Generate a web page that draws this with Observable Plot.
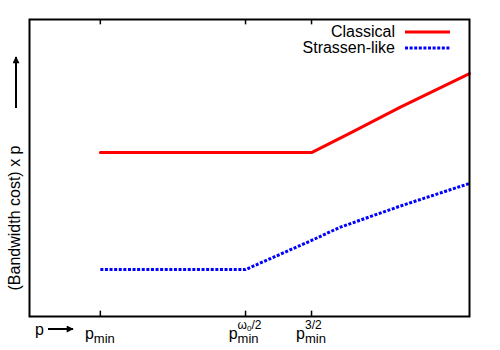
<!DOCTYPE html>
<html>
<head>
<meta charset="utf-8">
<script src="https://cdn.jsdelivr.net/npm/d3@7"></script>
<script src="https://cdn.jsdelivr.net/npm/@observablehq/plot@0.6"></script>
<style>
  body { margin: 0; background: #fff; }
</style>
</head>
<body>
<div id="chart"></div>
<script>
// x positions of the marked values (arbitrary units on a 0..10 axis)
const tickX = [1.61, 4.91, 6.41];
const tickSup = [null, "omega", "3/2"];

// Classical series
const classicalX = [1.61, 6.41, 7.32, 8.43, 10];
const classicalY = [5.52, 5.52, 6.20, 7.05, 8.18];

// Strassen-like series
const strassenX = [1.61, 4.91, 6.41, 7.05, 8.43, 10];
const strassenY = [1.58, 1.58, 2.56, 3.00, 3.72, 4.48];

const seriesNames = ["Classical", "Strassen-like"];
const seriesColors = ["#ff0000", "#0000ff"];

const classical = classicalX.map((x, i) => ({x, y: classicalY[i]}));
const strassen = strassenX.map((x, i) => ({x, y: strassenY[i]}));

const svg = Plot.plot({
  width: 500,
  height: 350,
  marginLeft: 29,
  marginRight: 31,
  marginTop: 19,
  marginBottom: 34,
  x: {domain: [0, 10], axis: null},
  y: {domain: [0, 10], axis: null},
  marks: [
    Plot.line(classical, {x: "x", y: "y", stroke: seriesColors[0], strokeWidth: 3}),
    Plot.line(strassen, {x: "x", y: "y", stroke: seriesColors[1], strokeWidth: 3, strokeDasharray: "3,1.6", strokeLinecap: "butt"}),
    Plot.ruleX(tickX, {y1: 0, y2: 0.18, stroke: "black", strokeWidth: 1.5}),
    Plot.ruleX(tickX, {y1: 10, y2: 9.82, stroke: "black", strokeWidth: 1.5}),
    Plot.frame({stroke: "black", strokeWidth: 2})
  ]
});
document.getElementById("chart").appendChild(svg);

const xs = svg.scale("x");
const g = d3.select(svg).append("g").attr("fill", "black")
  .attr("font-family", "'Liberation Sans', Arial, sans-serif").attr("text-anchor", "start");

// x tick labels with sub/superscripts
tickX.forEach((v, i) => {
  const grp = g.append("g");
  const p = grp.append("text").attr("x", 0).attr("y", 339).attr("font-size", 16).text("p");
  const pw = p.node().getComputedTextLength();
  const sub = grp.append("text").attr("x", pw).attr("y", 343).attr("font-size", 13).text("min");
  let total = pw + sub.node().getComputedTextLength();
  if (tickSup[i] === "omega") {
    const sup = grp.append("text").attr("x", pw).attr("y", 329).attr("font-size", 12);
    sup.append("tspan").text("ω");
    sup.append("tspan").attr("font-size", 8).attr("dy", 1.5).text("0");
    sup.append("tspan").attr("dy", -1.5).text("/2");
    total = Math.max(total, pw + sup.node().getComputedTextLength());
  } else if (tickSup[i]) {
    const sup = grp.append("text").attr("x", pw).attr("y", 329).attr("font-size", 12).text(tickSup[i]);
    total = Math.max(total, pw + sup.node().getComputedTextLength());
  }
  grp.attr("transform", `translate(${xs.apply(v) - total / 2},0)`);
});

// x-axis "p ->" label
g.append("text").attr("x", 35).attr("y", 335).attr("font-size", 16).text("p");
const defs = d3.select(svg).append("defs");
defs.append("marker").attr("id", "ah").attr("viewBox", "0 0 10 10").attr("refX", 9).attr("refY", 5)
  .attr("markerWidth", 4.5).attr("markerHeight", 3.5).attr("orient", "auto")
  .append("path").attr("d", "M0,0L10,5L0,10z").attr("fill", "black");
g.append("line").attr("x1", 48).attr("y1", 329).attr("x2", 73).attr("y2", 329)
  .attr("stroke", "black").attr("stroke-width", 2).attr("marker-end", "url(#ah)");

// y label
g.append("text").attr("transform", "translate(20,218) rotate(-90)").attr("text-anchor", "middle")
  .attr("font-size", 16).text("(Bandwidth cost) x p");
g.append("line").attr("x1", 16).attr("y1", 108).attr("x2", 16).attr("y2", 57)
  .attr("stroke", "black").attr("stroke-width", 2).attr("marker-end", "url(#ah)");

// legend
const legY = [32, 48];
seriesNames.forEach((name, i) => {
  g.append("text").attr("x", 395).attr("y", legY[i] + 5).attr("text-anchor", "end")
    .attr("font-size", 16).text(name);
  const ln = d3.select(svg).append("line").attr("x1", 405).attr("x2", 450)
    .attr("y1", legY[i]).attr("y2", legY[i]).attr("stroke", seriesColors[i]).attr("stroke-width", 3);
  if (i === 1) ln.attr("stroke-dasharray", "3,1.6");
});
</script>
</body>
</html>
